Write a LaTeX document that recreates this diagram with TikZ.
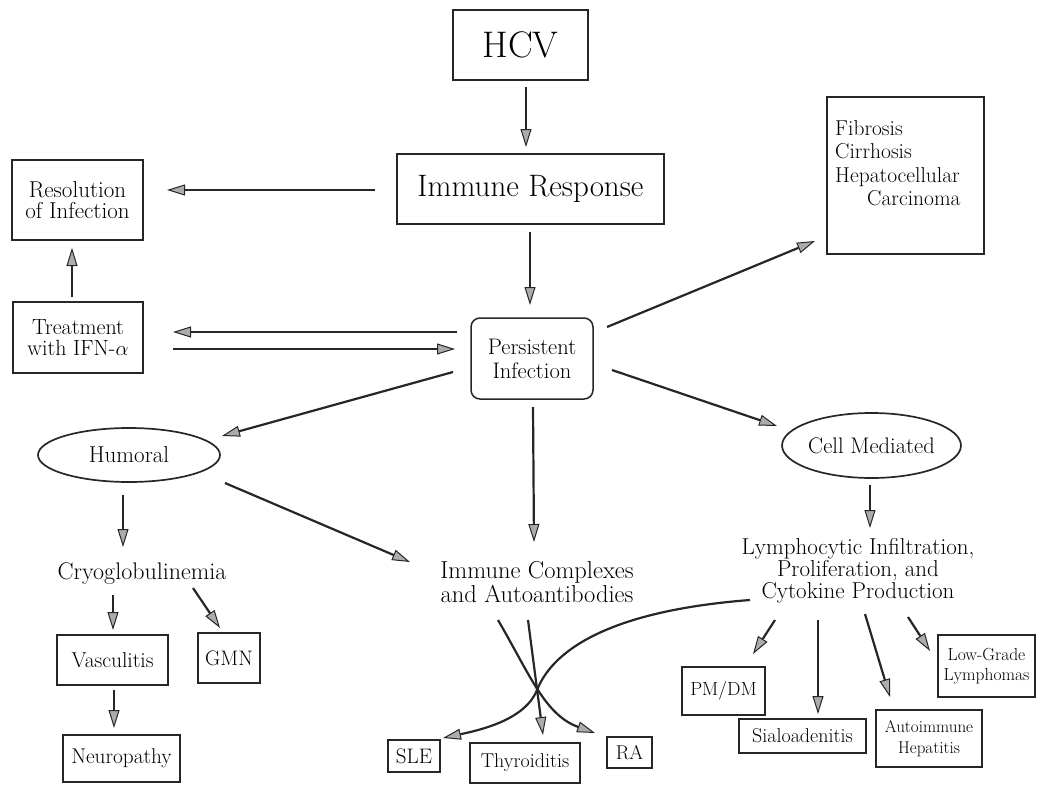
\documentclass[tikz,border=0pt]{standalone}
\usetikzlibrary{arrows.meta,shapes.geometric,calc}
\newcommand{\myfs}[2]{\fontsize{#1}{#2}\selectfont}
\begin{document}
\begin{tikzpicture}[x=1pt,y=-1pt,
  box/.style={draw=black!85, line width=1.5pt, inner sep=0pt, align=center},
  txt/.style={inner sep=0pt, align=center},
  oval/.style={draw=black!85, ellipse, line width=1.7pt, inner sep=0pt},
  arr/.style={draw=black!85, line width=2.2pt, -{Triangle[length=18pt,width=11pt,fill=gray!65,line width=1pt]}}]
\useasboundingbox (0,0) rectangle (1037,787);

% nodes
\node[box, minimum width=135pt, minimum height=70pt, font=\myfs{37}{40}] (hcv) at (520.5,45) {HCV};
\node[box, minimum width=267pt, minimum height=70pt, font=\myfs{31}{34}] (imm) at (530.5,189) {Immune Response};
\node[box, minimum width=131pt, minimum height=80pt, font=\myfs{23}{21.5}] (res) at (77.5,200) {Resolution\\of Infection};
\node[box, minimum width=157pt, minimum height=157pt] (fib) at (905.5,175.5) {};
\node[txt, align=left, anchor=north west, font=\myfs{21.5}{23.3}] (fibt) at ($(fib.center)+(-70.5,-55)$) {Fibrosis\\Cirrhosis\\Hepatocellular\\\hspace*{32pt}Carcinoma};
\node[box, rounded corners=9pt, minimum width=122pt, minimum height=81pt, font=\myfs{22.5}{24}] (pers) at (532,358.5) {Persistent\\Infection};
\node[box, minimum width=130pt, minimum height=71pt, font=\myfs{22}{21.5}] (trt) at (78,337.5) {Treatment\\with IFN-$\alpha$};
\node[oval, minimum width=182pt, minimum height=54pt, font=\myfs{23}{24}] (hum) at (129,455) {Humoral};
\node[oval, minimum width=173pt, minimum height=65pt, font=\myfs{22.5}{24}] (cell) at (871.5,445.5) {Cell Mediated};
\node[txt, font=\myfs{24.5}{21}] (imc) at (537,582) {Immune Complexes\\and Autoantibodies};
\node[txt, font=\myfs{23}{22}] (lym) at (858,571) {Lymphocytic Infiltration,\\Proliferation, and\\Cytokine Production};
\node[txt, font=\myfs{24}{24}] (cryo) at (142,574) {Cryoglobulinemia};
\node[box, minimum width=111pt, minimum height=50pt, font=\myfs{21.5}{22}] (vasc) at (112.5,660) {Vasculitis};
\node[box, minimum width=62pt, minimum height=50pt, font=\myfs{21}{22}] (gmn) at (229,658) {GMN};
\node[box, minimum width=117pt, minimum height=47pt, font=\myfs{21.3}{22}] (neu) at (121.5,758.5) {Neuropathy};
\node[box, minimum width=52pt, minimum height=32pt, font=\myfs{21}{22}] (sle) at (414,756) {SLE};
\node[box, minimum width=110pt, minimum height=40pt, font=\myfs{20}{22}] (thy) at (525,763) {Thyroiditis};
\node[box, minimum width=45pt, minimum height=31pt, font=\myfs{20}{22}] (ra) at (629.5,752.5) {RA};
\node[box, minimum width=83pt, minimum height=48pt, font=\myfs{19}{22}] (pmdm) at (723.5,691) {PM/DM};
\node[box, minimum width=127pt, minimum height=34pt, font=\myfs{20}{22}] (sia) at (802.5,736) {Sialoadenitis};
\node[box, minimum width=106pt, minimum height=57pt, font=\myfs{17}{21}] (ahep) at (929,738.5) {Autoimmune\\Hepatitis};
\node[box, minimum width=97pt, minimum height=62pt, font=\myfs{17.5}{20}] (lgl) at (986.5,666) {Low-Grade\\Lymphomas};

% connectors
\draw[arr] ($(hcv.center)+(5.5,42)$) -- ($(imm.center)+(-4.5,-42)$);
\draw[arr] ($(imm.center)+(-155.5,1)$) -- ($(res.center)+(89.5,-10)$);
\draw[arr] ($(imm.center)+(-0.5,43)$) -- ($(pers.center)+(-2,-53.5)$);
\draw[arr] ($(trt.center)+(-6,-40.5)$) -- ($(res.center)+(-5.5,48)$);
\draw[arr] ($(pers.center)+(-75,-26.5)$) -- ($(trt.center)+(95,-5.5)$);
\draw[arr] ($(trt.center)+(95,11.5)$) -- ($(pers.center)+(-77,-9.5)$);
\draw[arr] ($(pers.center)+(75,-31.5)$) -- ($(fib.center)+(-90.5,65.5)$);
\draw[arr] ($(pers.center)+(-79,13.5)$) -- ($(hum.center)+(93,-19)$);
\draw[arr] ($(pers.center)+(80,11.5)$) -- ($(cell.center)+(-94.5,-19.5)$);
\draw[arr] ($(pers.center)+(1,48.5)$) -- ($(imc.center)+(-3,-40)$);
\draw[arr] ($(hum.center)+(96,28)$) -- ($(imc.center)+(-127,-20)$);
\draw[arr] ($(hum.center)+(-6,40)$) -- ($(cryo.center)+(-19,-27)$);
\draw[arr] ($(cryo.center)+(-29,21)$) -- ($(vasc.center)+(0.5,-30)$);
\draw[arr] ($(cryo.center)+(51,14)$) -- ($(gmn.center)+(-9,-30)$);
\draw[arr] ($(vasc.center)+(1.5,30)$) -- ($(neu.center)+(-7.5,-30.5)$);
\draw[arr] ($(cell.center)+(-1.5,39.5)$) -- ($(lym.center)+(12,-43)$);
\draw[arr] ($(imc.center)+(-39,38)$) .. controls ($(imc.center)+(-7,93)$) and ($(ra.center)+(-84.5,-37.5)$) .. ($(ra.center)+(-34.5,-19.5)$);
\draw[arr] ($(imc.center)+(-9,38)$) -- ($(thy.center)+(18,-28)$);
\draw[arr] ($(lym.center)+(-108,29)$) .. controls ($(lym.center)+(-238,39)$) and ($(sle.center)+(141,-111)$) .. ($(sle.center)+(123,-66)$) .. controls ($(sle.center)+(111,-36)$) and ($(sle.center)+(66,-26)$) .. ($(sle.center)+(29,-18)$);
\draw[arr] ($(lym.center)+(-83,49)$) -- ($(pmdm.center)+(29.5,-37)$);
\draw[arr] ($(lym.center)+(-40,49)$) -- ($(sia.center)+(15.5,-22)$);
\draw[arr] ($(lym.center)+(7,43)$) -- ($(ahep.center)+(-39,-41.5)$);
\draw[arr] ($(lym.center)+(50,46)$) -- ($(lgl.center)+(-56.5,-15)$);
\end{tikzpicture}
\end{document}
